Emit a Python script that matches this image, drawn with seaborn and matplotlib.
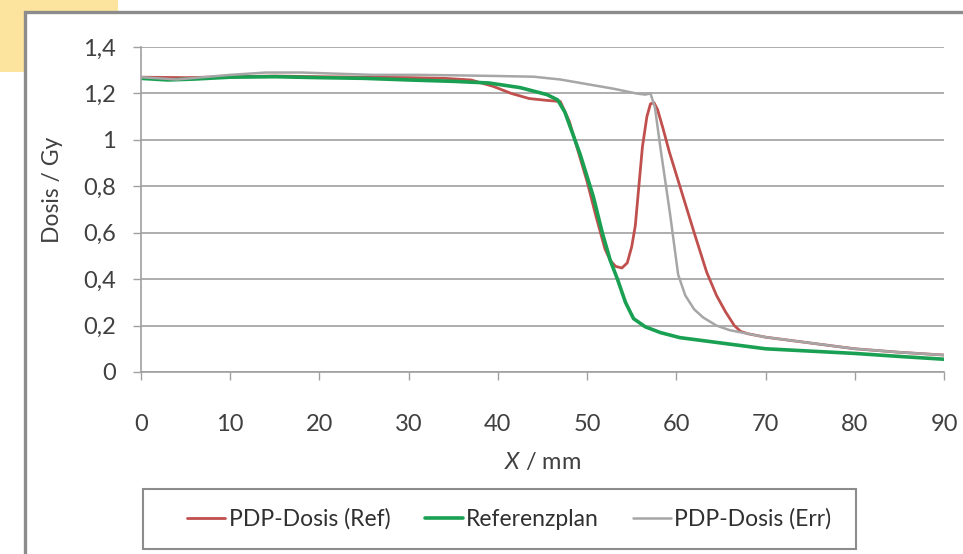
import numpy as np
import pandas as pd
import matplotlib
matplotlib.use("Agg")
import matplotlib.pyplot as plt
import matplotlib.patches as mpatches
from matplotlib.lines import Line2D
import seaborn as sns

# dose profiles (x in mm, dose in Gy)
ref_x = [0, 5, 10, 15, 20, 25, 30, 34, 37, 39.5, 41.5, 43.5, 45.5, 47, 48, 49, 50,
         51, 52, 52.6, 53.2, 53.9, 54.5, 55, 55.4, 55.8, 56.2, 56.7, 57.1, 57.5,
         57.9, 58.5, 59.2, 60.4, 62, 63.4, 64.5, 65.5, 66.5, 67.2, 68, 70, 75, 80,
         85, 90]
ref_y = [1.27, 1.268, 1.272, 1.275, 1.272, 1.27, 1.268, 1.265, 1.258, 1.23, 1.2,
         1.178, 1.17, 1.165, 1.08, 0.95, 0.82, 0.67, 0.53, 0.48, 0.455, 0.448, 0.47,
         0.54, 0.63, 0.8, 0.97, 1.1, 1.155, 1.16, 1.13, 1.05, 0.95, 0.8, 0.6, 0.43,
         0.33, 0.26, 0.2, 0.175, 0.165, 0.15, 0.125, 0.10, 0.085, 0.073]

plan_x = [0, 3, 6, 10, 15, 20, 25, 30, 35, 39, 42.5, 45.5, 46.7, 47.5, 49.2, 50.7,
          51.7, 52.6, 53.4, 54.3, 55.2, 56.5, 58.2, 60.4, 63, 65, 70, 75, 80, 85, 90]
plan_y = [1.265, 1.258, 1.262, 1.27, 1.272, 1.268, 1.265, 1.258, 1.252, 1.245,
          1.225, 1.195, 1.172, 1.12, 0.94, 0.755, 0.60, 0.48, 0.40, 0.30, 0.23,
          0.195, 0.17, 0.148, 0.135, 0.125, 0.10, 0.09, 0.08, 0.067, 0.055]

err_x = [0, 2, 4, 7, 10, 14, 18, 22, 26, 31, 35, 40, 44, 47, 50, 53, 55.5, 56.5,
         57.1, 57.6, 58.2, 59.3, 60.2, 61, 62, 63, 64.5, 66, 68, 70, 75, 80, 85, 90]
err_y = [1.27, 1.265, 1.26, 1.27, 1.28, 1.29, 1.29, 1.285, 1.28, 1.28, 1.278, 1.275,
         1.272, 1.26, 1.24, 1.22, 1.2, 1.195, 1.2, 1.14, 0.97, 0.68, 0.42, 0.33,
         0.27, 0.235, 0.2, 0.18, 0.165, 0.15, 0.125, 0.10, 0.085, 0.073]

series_names = ["PDP-Dosis (Ref)", "Referenzplan", "PDP-Dosis (Err)"]
series_colors = ["#C0504D", "#1AA052", "#A6A6A6"]
series_widths = [2.0, 2.6, 1.8]

y_ticks = [0, 0.2, 0.4, 0.6, 0.8, 1.0, 1.2, 1.4]
y_tick_labels = ["0", "0,2", "0,4", "0,6", "0,8", "1", "1,2", "1,4"]
x_ticks = [0, 10, 20, 30, 40, 50, 60, 70, 80, 90]

df = pd.concat([
    pd.DataFrame({"x": ref_x, "dose": ref_y, "series": series_names[0]}),
    pd.DataFrame({"x": plan_x, "dose": plan_y, "series": series_names[1]}),
    pd.DataFrame({"x": err_x, "dose": err_y, "series": series_names[2]}),
], ignore_index=True)

sns.set_theme(style="white")
plt.rcParams["font.family"] = ["Lato", "DejaVu Sans"]
plt.rcParams["mathtext.fontset"] = "custom"
plt.rcParams["mathtext.it"] = "Lato:italic"
plt.rcParams["mathtext.rm"] = "Lato"

W, H = 963, 554
fig = plt.figure(figsize=(W / 100, H / 100), dpi=100)

# yellow corner block, outer frame and legend box
fig.patches.append(mpatches.Rectangle((0, 1 - 72 / H), 118 / W, 72 / H,
                                      transform=fig.transFigure, facecolor="#FDE49E",
                                      edgecolor="none", zorder=0))
fig.patches.append(mpatches.Rectangle((25 / W, -0.05), 1.0, 1 - 12 / H + 0.05,
                                      transform=fig.transFigure, facecolor="white",
                                      edgecolor="#8C8C8C", linewidth=2.4, zorder=1))
fig.patches.append(mpatches.Rectangle((143 / W, 1 - 549 / H), 713 / W, 60 / H,
                                      transform=fig.transFigure, facecolor="white",
                                      edgecolor="#8C8C8C", linewidth=1.5, zorder=2))

ax = fig.add_axes([141 / W, 1 - 372 / H, 803 / W, 325 / H])
ax.set_facecolor("none")
ax.set_zorder(3)

sns.lineplot(data=df, x="x", y="dose", hue="series", hue_order=series_names,
             palette=series_colors, estimator=None, errorbar=None, ax=ax,
             legend=False)
for line, lw in zip(ax.lines, series_widths):
    line.set_linewidth(lw)
    line.set_solid_capstyle("round")
    line.set_solid_joinstyle("round")

ax.set_xlim(0, 90)
ax.set_ylim(0, 1.4)
ax.set_xticks(x_ticks)
ax.set_yticks(y_ticks)
ax.set_yticklabels(y_tick_labels)
ax.grid(axis="y", color="#A0A0A0", linewidth=1.2)
ax.grid(axis="x", visible=False)
ax.set_axisbelow(True)

for side in ["top", "right"]:
    ax.spines[side].set_visible(False)
for side in ["left", "bottom"]:
    ax.spines[side].set_color("#A0A0A0")
    ax.spines[side].set_linewidth(1.2)

ax.tick_params(axis="both", colors="#A0A0A0", labelcolor="#404040",
               labelsize=17, length=6, width=1.0, direction="out")
ax.tick_params(axis="y", pad=12, left=True)
ax.tick_params(axis="x", pad=24, bottom=True)

ax.set_xlabel(r"$X$ / mm", fontsize=17, color="#404040", labelpad=12)
ax.set_ylabel("Dosis / Gy", fontsize=16.5, color="#404040")
ax.yaxis.set_label_coords(-0.097, 0.56)

handles = [Line2D([0], [0], color=c, lw=w) for c, w in zip(series_colors, series_widths)]
leg = fig.legend(handles, series_names, loc="center", ncol=3,
                 bbox_to_anchor=(509.5 / W, 1 - 519 / H), frameon=False,
                 fontsize=16.5, handlelength=1.65, handletextpad=0.15,
                 columnspacing=1.5, labelcolor="#303030")
leg.set_zorder(5)

fig.savefig("out.png", dpi=100)
